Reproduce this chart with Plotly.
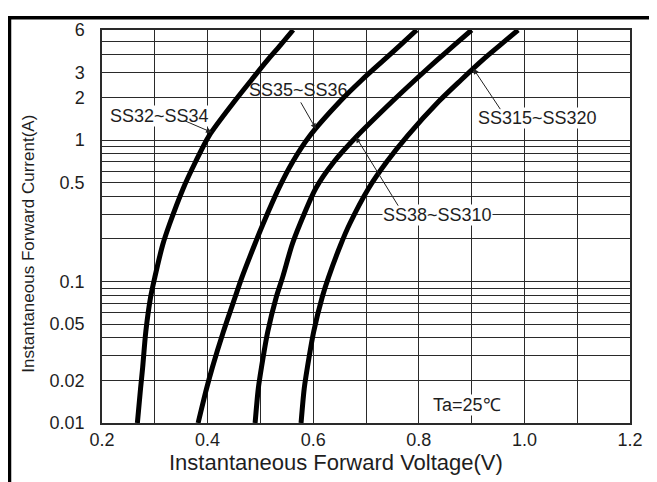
import numpy as np
import plotly.graph_objects as go

# ---- data (positions along each curve) ----
current_a = [0.01, 0.0175, 0.0247, 0.0443, 0.0774, 0.107, 0.182, 0.255, 0.457, 0.70,
             1.076, 1.88, 2.66, 3.66, 4.69, 6.0]
vf_ss32_ss34 = [0.267, 0.273, 0.277, 0.283, 0.292, 0.300, 0.315, 0.328, 0.354, 0.377,
                0.403, 0.451, 0.483, 0.513, 0.538, 0.562]
vf_ss35_ss36 = [0.382, 0.398, 0.409, 0.430, 0.452, 0.465, 0.489, 0.505, 0.535, 0.561,
                0.594, 0.651, 0.692, 0.733, 0.765, 0.796]
vf_ss38_ss310 = [0.490, 0.496, 0.502, 0.514, 0.530, 0.542, 0.560, 0.575, 0.605, 0.639,
                 0.684, 0.750, 0.793, 0.834, 0.867, 0.900]
vf_ss315_ss320 = [0.577, 0.583, 0.589, 0.601, 0.617, 0.629, 0.652, 0.669, 0.705, 0.739,
                  0.779, 0.838, 0.880, 0.920, 0.954, 0.988]
series_names = ["SS32~SS34", "SS35~SS36", "SS38~SS310", "SS315~SS320"]

x_grid = [0.2, 0.3, 0.4, 0.5, 0.6, 0.7, 0.8, 0.9, 1.0, 1.1, 1.2]
x_labels = ["0.2", "", "0.4", "", "0.6", "", "0.8", "", "1.0", "", "1.2"]
y_grid = [0.01, 0.02, 0.03, 0.04, 0.05, 0.06, 0.07, 0.08, 0.09,
          0.1, 0.2, 0.3, 0.4, 0.5, 0.6, 0.7, 0.8, 0.9,
          1, 2, 3, 4, 5, 6]
y_label_map = {0.01: "0.01", 0.02: "0.02", 0.05: "0.05", 0.1: "0.1", 0.5: "0.5",
               1: "1", 2: "2", 3: "3", 6: "6"}
y_labels = [y_label_map.get(v, "") for v in y_grid]

FONT = "Liberation Sans, Arial, sans-serif"
TXT = "#1e1e1e"

# page offset of the figure (browser default body margin)
OFF = 8
L, T, R, B = 102 - OFF, 22 - OFF, 27, 59
PW, PH = 528, 401


def px(X):
    return (X - 102) / PW


def py(Y):
    return (423 - Y) / PH


fig = go.Figure()

# label drawn beneath the curves (a curve overlaps it in the reference)
fig.add_trace(go.Scatter(x=[0.5716], y=[2.21], mode="text", text=[series_names[1]],
                         textfont=dict(family=FONT, size=18, color=TXT),
                         hoverinfo="skip", showlegend=False))

for vals, name in zip([vf_ss32_ss34, vf_ss35_ss36, vf_ss38_ss310, vf_ss315_ss320], series_names):
    fig.add_trace(go.Scatter(x=vals, y=current_a, mode="lines", name=name,
                             line=dict(color="black", width=5, shape="spline", smoothing=0.8),
                             showlegend=False))


def point_on(vals, i):
    lv = np.log10(current_a)
    return float(np.interp(np.log10(i), lv, vals)), float(np.log10(i))


def arrow(vals, i, ax, ay):
    x, y = point_on(vals, i)
    fig.add_annotation(x=x, y=y, xref="x", yref="y", text="", showarrow=True,
                       ax=ax, ay=ay, arrowhead=2, arrowsize=1.1, arrowwidth=1,
                       arrowcolor="#222")


def label(text, X, Y, bg="white"):
    fig.add_annotation(x=px(X), y=py(Y), xref="paper", yref="paper",
                       text=text, showarrow=False, xanchor="center", yanchor="middle",
                       font=dict(family=FONT, size=18, color=TXT), bgcolor=bg, borderpad=0)


label(series_names[0], 159, 110)
arrow(vf_ss32_ss34, 1.135, -28, -12)
arrow(vf_ss35_ss36, 1.2, -16, -28)
label(series_names[2], 437, 211)
arrow(vf_ss38_ss310, 1.048, 43, 70)
label(series_names[3], 537, 112)
arrow(vf_ss315_ss320, 3.2, 28, 42)
label("Ta=25℃", 467, 405)

# axis titles
fig.add_annotation(x=px(336), y=py(463), xref="paper", yref="paper",
                   text="Instantaneous Forward Voltage(V)", showarrow=False,
                   xanchor="center", yanchor="middle",
                   font=dict(family=FONT, size=22, color=TXT))
fig.add_annotation(x=px(29), y=py(240), xref="paper", yref="paper",
                   text="Instantaneous Forward Current(A)", showarrow=False, textangle=-90,
                   xanchor="center", yanchor="middle",
                   font=dict(family=FONT, size=17, color=TXT))

# outer frame (left and top edges, as in the reference)
fig.add_shape(type="line", xref="paper", yref="paper",
              x0=px(OFF + 1.5), x1=px(OFF + 1.5), y0=py(490), y1=py(OFF),
              line=dict(color="black", width=3.5))
fig.add_shape(type="line", xref="paper", yref="paper",
              x0=px(OFF), x1=px(665), y0=py(OFF + 1.5), y1=py(OFF + 1.5),
              line=dict(color="black", width=3.5))

fig.update_xaxes(range=[0.2, 1.2], tickvals=x_grid, ticktext=x_labels,
                 showgrid=True, gridcolor="#2a2a2a", gridwidth=1.3,
                 showline=True, linecolor="#2a2a2a", linewidth=1.5, mirror=True,
                 ticks="", ticklabelstandoff=0, zeroline=False,
                 tickfont=dict(family=FONT, size=18, color=TXT))
fig.update_yaxes(type="log", range=[-2, np.log10(6)], tickvals=y_grid, ticktext=y_labels,
                 showgrid=True, gridcolor="#2a2a2a", gridwidth=1.3,
                 showline=True, linecolor="#2a2a2a", linewidth=1.5, mirror=True,
                 ticks="", ticklabelstandoff=12, zeroline=False,
                 tickfont=dict(family=FONT, size=18, color=TXT))

fig.update_layout(width=657 - OFF, height=482 - OFF, margin=dict(l=L, r=R, t=T, b=B),
                  plot_bgcolor="white", paper_bgcolor="white", showlegend=False)

fig.write_html("out.html")
